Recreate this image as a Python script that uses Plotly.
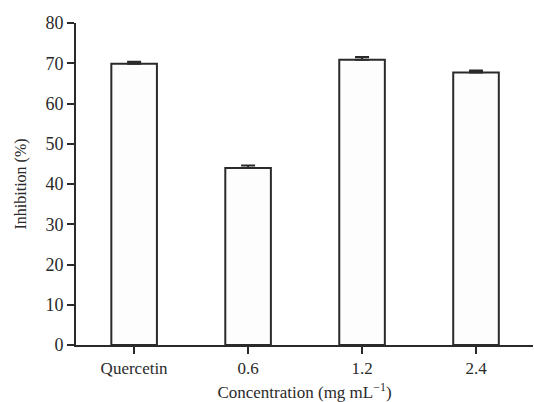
import plotly.graph_objects as go

categories = ["Quercetin", "0.6", "1.2", "2.4"]
inhibition = [69.9, 44.0, 70.9, 67.7]
errors_up = [0.5, 0.6, 0.65, 0.5]
errors_down = [0, 0, 0, 0]
y_ticks = [0, 10, 20, 30, 40, 50, 60, 70, 80]

fig = go.Figure(
    go.Bar(
        x=categories,
        y=inhibition,
        width=0.4,
        marker=dict(color="#fdfdfd", line=dict(color="#2a2a2a", width=2)),
        error_y=dict(type="data", array=errors_up, arrayminus=errors_down, visible=True,
                     color="#2a2a2a", thickness=2, width=7),
    )
)

font_family = "Liberation Serif"

fig.update_layout(
    width=534,
    height=402,
    margin=dict(l=76, r=1, t=23, b=57),
    plot_bgcolor="white",
    paper_bgcolor="white",
    showlegend=False,
    font=dict(family=font_family, size=17, color="#2a2a2a"),
    xaxis=dict(
        range=[-0.51, 3.5],
        automargin=False,
        showline=True, linecolor="#2a2a2a", linewidth=2,
        ticks="outside", ticklen=7, tickwidth=1.5, tickcolor="#2a2a2a",
        showgrid=False, zeroline=False,
        tickfont=dict(family=font_family, size=17),
        title=dict(text="Concentration (mg mL<sup>−1</sup>)", font=dict(family=font_family, size=17)),
    ),
    yaxis=dict(
        range=[0, 80],
        automargin=False,
        tickvals=y_ticks,
        showline=True, linecolor="#2a2a2a", linewidth=2,
        ticks="outside", ticklen=7, tickwidth=1.5, tickcolor="#2a2a2a",
        showgrid=False, zeroline=False,
        tickfont=dict(family=font_family, size=18),
        title=dict(text="Inhibition (%)", font=dict(family=font_family, size=16)),
    ),
)

fig.write_html(
    "out.html",
    config={"displayModeBar": False},
    post_script="document.body.style.margin='0';document.body.style.overflow='hidden';",
)
